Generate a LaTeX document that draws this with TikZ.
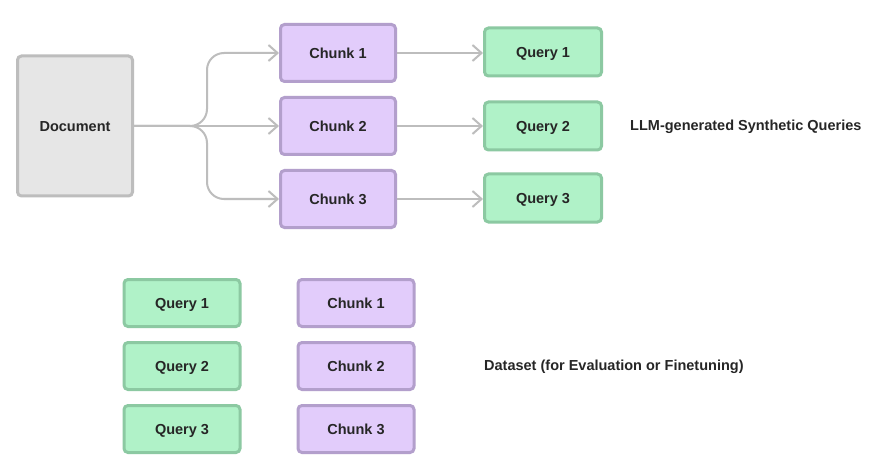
\documentclass[tikz,border=0pt]{standalone}
\usepackage{fontspec}
\setmainfont{Liberation Sans}
\usetikzlibrary{arrows.meta}
\definecolor{docfill}{HTML}{E6E6E6}
\definecolor{docline}{HTML}{BDBDBD}
\definecolor{chunkfill}{HTML}{E2CCFB}
\definecolor{chunkline}{HTML}{B39FCC}
\definecolor{queryfill}{HTML}{B0F2C8}
\definecolor{queryline}{HTML}{8CC9A2}
\definecolor{txt}{HTML}{262626}
\definecolor{wire}{HTML}{BDBDBD}
\tikzset{
  labelfont/.style={font=\fontsize{14.5}{17}\selectfont\bfseries, text=txt},
  box/.style={draw, line width=3pt, rounded corners=4pt, inner sep=0pt,
    labelfont, text height=10.4pt, text depth=0pt},
  docbox/.style={box, fill=docfill, draw=docline, minimum width=115pt, minimum height=140pt},
  chunkbox/.style={box, fill=chunkfill, draw=chunkline, minimum width=115pt, minimum height=57pt},
  querybox/.style={box, fill=queryfill, draw=queryline, minimum width=117pt, minimum height=48pt},
  smallchunk/.style={box, fill=chunkfill, draw=chunkline, minimum width=116pt, minimum height=47pt},
  smallquery/.style={box, fill=queryfill, draw=queryline, minimum width=116pt, minimum height=47pt},
  wirearrow/.style={draw=wire, line width=2pt, -{Straight Barb[length=9pt,width=16pt,line width=2pt]}},
  caption/.style={labelfont, inner sep=0pt}
}
\begin{document}
\begin{tikzpicture}[x=1pt,y=-1pt]
  \useasboundingbox[fill=white] (0,0) rectangle (892,476);

  % top row: document split into chunks, each chunk gives a query
  \node[docbox] (doc) at (75,126) {Document};
  \node[chunkbox] (c1) at (338,53) {Chunk 1};
  \node[chunkbox] (c2) at (338,126) {Chunk 2};
  \node[chunkbox] (c3) at (338,199) {Chunk 3};
  \node[querybox] (q1) at (543,52) {Query 1};
  \node[querybox] (q2) at (543,126) {Query 2};
  \node[querybox] (q3) at (543,198) {Query 3};
  \node[caption, anchor=west] (llm) at (630,127) {LLM-generated Synthetic Queries};

  \coordinate (split) at (207,126);
  \draw[wirearrow, rounded corners=17pt] (doc.east) -- (split) |- (c1.west);
  \draw[wirearrow, rounded corners=17pt] (doc.east) -- (split) |- (c3.west);
  \draw[wirearrow] (doc.east) -- (c2.west);

  \draw[wirearrow] (c1.east) -- (q1.west |- c1.east);
  \draw[wirearrow] (c2.east) -- (q2.west |- c2.east);
  \draw[wirearrow] (c3.east) -- (q3.west |- c3.east);

  % bottom: query/chunk pairs forming the dataset
  \node[smallquery] (dq1) at (182,303) {Query 1};
  \node[smallquery] (dq2) at (182,366) {Query 2};
  \node[smallquery] (dq3) at (182,429) {Query 3};
  \node[smallchunk] (dc1) at (356,303) {Chunk 1};
  \node[smallchunk] (dc2) at (356,366) {Chunk 2};
  \node[smallchunk] (dc3) at (356,429) {Chunk 3};
  \node[caption, anchor=west] (ds) at (484,367) {Dataset (for Evaluation or Finetuning)};
\end{tikzpicture}
\end{document}
